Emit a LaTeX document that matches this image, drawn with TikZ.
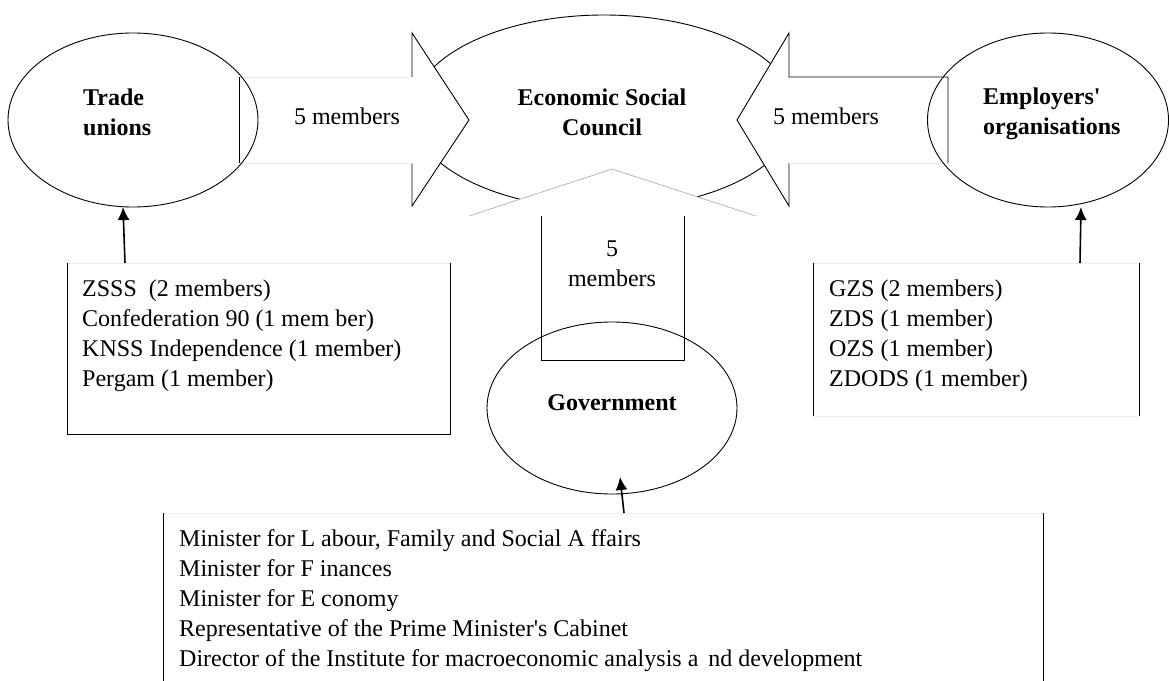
\documentclass[tikz,border=0pt]{standalone}
\usepackage{fontspec}
\setmainfont{Liberation Serif}
\usetikzlibrary{shapes.geometric,arrows.meta}
\begin{document}
\begin{tikzpicture}[x=1pt,y=-1pt,
  oval/.style={draw, ellipse, line width=0.9pt, inner sep=0pt, outer sep=0pt},
  lbl/.style={font=\fontsize{24}{30}\selectfont\bfseries, align=left, inner sep=0pt},
  plain/.style={font=\fontsize{24}{30}\selectfont, align=center, inner sep=0pt},
  listtext/.style={anchor=north west, inner sep=0pt, font=\fontsize{24}{30}\selectfont},
  frame/.style={inner sep=0pt, outer sep=0pt},
  dark/.style={draw=black, line width=0.9pt},
  faint/.style={draw=gray!15, line width=0.8pt},
  headline/.style={draw=gray!70, line width=0.6pt},
  ptr/.style={line width=1.6pt, -{Latex[length=13pt,width=12pt]}},
]
\useasboundingbox (0,0) rectangle (1169,680);
\clip (0,0) rectangle (1169,680);

% central council
\node[oval, fill=white, minimum width=384pt, minimum height=194pt] (esc) at (604,112) {};

% block arrow from trade unions
\fill[white] (239,77) -- (412,77) -- (412,33) -- (469,120) -- (412,206) -- (412,163) -- (239,163) -- cycle;
\draw[dark] (412,77) -- (412,33) -- (469,120) -- (412,206) -- (412,163);
\draw[faint] (239,77) -- (412,77) (239,163) -- (412,163);
\draw[dark] (239,77) -- (239,163);

% block arrow from employers
\fill[white] (948,77) -- (789,77) -- (789,33) -- (737,120) -- (789,206) -- (789,163) -- (948,163) -- cycle;
\draw[dark] (948,163) -- (948,77) -- (789,77) -- (789,33) -- (737,120) -- (789,206) -- (789,163);
\draw[faint] (789,163) -- (948,163);

% block arrow from government
\fill[white] (612,169) -- (756,216) -- (684,216) -- (684,360) -- (541,360) -- (541,216) -- (469,216) -- cycle;
\draw[headline] (469,216) -- (612,169) -- (756,216);
\draw[dark] (541,216) -- (541,360) -- (684,360) -- (684,216);

% outer ellipses
\node[oval, minimum width=250pt, minimum height=174pt] (tu) at (133,120) {};
\node[oval, minimum width=241pt, minimum height=174pt] (emp) at (1048,120) {};
\node[oval, minimum width=250pt, minimum height=172pt] (gov) at (612,408) {};

% labels
\node[lbl, anchor=west] (tutext) at (83,112) {Trade\\unions};
\node[lbl, align=center] (esctext) at (602,112) {Economic Social\\Council};
\node[lbl, anchor=west] (emtext) at (983,114) {Employers\textquotesingle\\organisations};
\node[lbl] (govtext) at (612,403) {Government};
\node[plain] (m1) at (347,116) {5 members};
\node[plain] (m2) at (826,116) {5 members};
\node[plain] (m3) at (612,264) {5\\members};

% boxes
\node[frame, minimum width=383pt, minimum height=171pt] (tubox) at (258.5,348.5) {};
\draw[faint] (tubox.north west) -- (tubox.north east);
\draw[dark] (tubox.north west) -- (tubox.south west) -- (tubox.south east) -- (tubox.north east);

\node[frame, minimum width=326pt, minimum height=153pt] (embox) at (976,339.5) {};
\draw[faint] (embox.north west) -- (embox.north east) (embox.south west) -- (embox.south east);
\draw[dark] (embox.north west) -- (embox.south west) (embox.north east) -- (embox.south east);

\node[frame, minimum width=880pt, minimum height=187pt] (gvbox) at (603,606.5) {};
\draw[faint] (gvbox.north west) -- (gvbox.north east);
\draw[dark] (gvbox.north west) -- (gvbox.south west) (gvbox.north east) -- (gvbox.south east);

% box texts
\node[listtext] (tulist) at (82,275) {\begin{tabular}{@{}l@{}}ZSSS\ \ (2 members)\\Confederation 90 (1 mem ber)\\KNSS Independence (1 member)\\Pergam (1 member)\end{tabular}};
\node[listtext] (emlist) at (829,275) {\begin{tabular}{@{}l@{}}GZS (2 members)\\ZDS (1 member)\\OZS (1 member)\\ZDODS (1 member)\end{tabular}};
\node[listtext] (gvlist) at (179,525) {\begin{tabular}{@{}l@{}}Minister for L abour, Family and Social A ffairs\\Minister for F inances\\Minister for E conomy\\Representative of the Prime Minister\textquotesingle s Cabinet\\Director of the Institute for macroeconomic analysis a\hspace{10pt}nd development\end{tabular}};

% pointers
\draw[ptr] ([xshift=58pt]tubox.north west) -- ([xshift=-10pt]tu.south);
\draw[ptr] ([xshift=267pt]embox.north west) -- ([xshift=33pt]emp.south);
\draw[ptr] ([xshift=461pt]gvbox.north west) -- ([xshift=8pt,yshift=17pt]gov.south);
\end{tikzpicture}
\end{document}
